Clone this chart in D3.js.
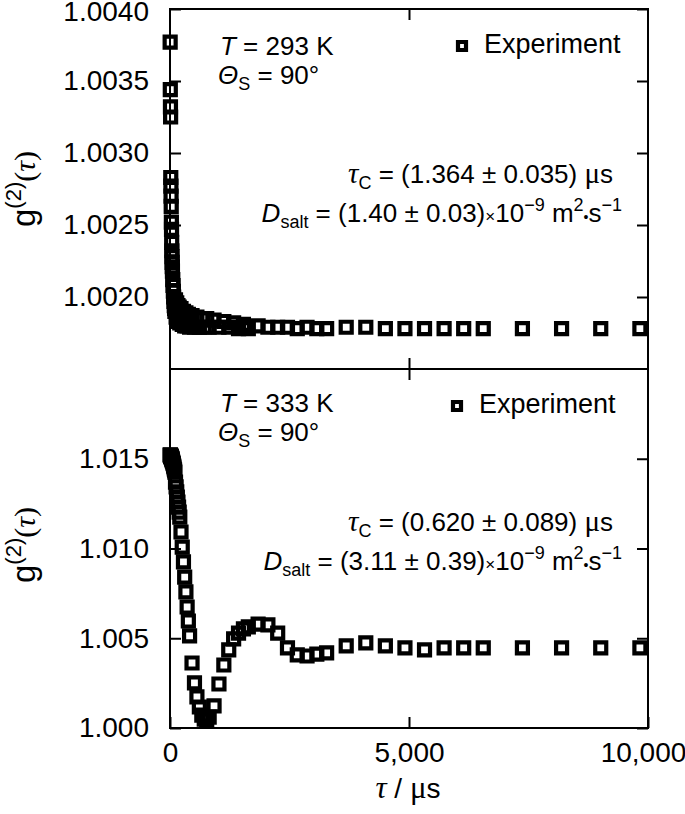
<!DOCTYPE html>
<html>
<head>
<meta charset="utf-8">
<script src="https://d3js.org/d3.v7.min.js"></script>
<style>
  body { margin: 0; background: #fff; }
  svg { display: block; font-family: "Liberation Sans", Arial, sans-serif; }
</style>
</head>
<body>
<svg id="chart" width="685" height="814"></svg>
<script>
// lag times of the correlator (µs), same for both runs
var tauUs = [
  3.2, 6.4, 9.6, 12.8, 16, 19.2, 22.4, 25.6, 28.8, 32, 35.2, 38.4, 41.6, 44.8, 48, 51.2,
  57.6, 64, 70.4, 76.8, 83.2, 89.6, 96, 102.4,
  115.2, 128, 140.8, 153.6, 166.4, 179.2, 192, 204.8,
  230.4, 256, 281.6, 307.2, 332.8, 358.4, 384, 409.6,
  460.8, 512, 563.2, 614.4, 665.6, 716.8, 768, 819.2,
  921.6, 1024, 1126.4, 1228.8, 1331.2, 1433.6, 1536, 1638.4,
  1843.2, 2048, 2252.8, 2457.6, 2662.4, 2867.2, 3072, 3276.8,
  3686.4, 4096, 4505.6, 4915.2, 5324.8, 5734.4, 6144, 6553.6,
  7372.8, 8192, 9011.2, 9830.4
];

// T = 293 K
var g2At293K = [
  1.00377, 1.00344, 1.00332, 1.00325, 1.00283, 1.00277, 1.00270, 1.00263,
  1.00252, 1.00247, 1.00238, 1.00232, 1.00228, 1.00224, 1.00221, 1.00218,
  1.00212, 1.00208, 1.00204, 1.00200, 1.00197, 1.00194, 1.00192, 1.00190,
  1.00198, 1.00186, 1.00196, 1.00184, 1.00194, 1.00183, 1.00193, 1.00182,
  1.00192, 1.00181, 1.00190, 1.00180, 1.00189, 1.00180, 1.00188, 1.00179,
  1.00187, 1.00179, 1.00186, 1.00179, 1.00185, 1.00179, 1.00185, 1.00179,
  1.00184, 1.00179, 1.00183, 1.00179, 1.00182, 1.00178, 1.00181, 1.00178,
  1.00180, 1.00179, 1.00179, 1.00179, 1.00178, 1.00179, 1.00178, 1.00178,
  1.00179, 1.00179, 1.00178, 1.00178, 1.00178, 1.00178, 1.00178, 1.00178,
  1.00178, 1.00178, 1.00178, 1.00178
];

// T = 333 K
var g2At333K = [
  1.01521, 1.01521, 1.01521, 1.01515, 1.01515, 1.01515, 1.01510, 1.01510,
  1.01510, 1.01504, 1.01504, 1.01499, 1.01499, 1.01493, 1.01493, 1.01487,
  1.01482, 1.01476, 1.01471, 1.01460, 1.01454, 1.01443, 1.01437, 1.01426,
  1.01370, 1.01343, 1.01315, 1.01287, 1.01259, 1.01231, 1.01203, 1.01175,
  1.01092, 1.01008, 1.00925, 1.00841, 1.00758, 1.00674, 1.00596, 1.00513,
  1.00362, 1.00251, 1.00173, 1.00117, 1.00072, 1.00050, 1.00045, 1.00061,
  1.00123, 1.00245, 1.00351, 1.00435, 1.00496, 1.00529, 1.00552, 1.00563,
  1.00579, 1.00574, 1.00529, 1.00446, 1.00407, 1.00401, 1.00412, 1.00418,
  1.00457, 1.00474, 1.00457, 1.00446, 1.00435, 1.00446, 1.00446, 1.00446,
  1.00446, 1.00446, 1.00446, 1.00446
];

var xTicks = [0, 5000, 10000];
var yTicksTop = [1.0020, 1.0025, 1.0030, 1.0035, 1.0040];
var yTicksBottom = [1.000, 1.005, 1.010, 1.015];

// frame edges (px)
var plotLeft = 170, plotRight = 648, plotTop = 9, plotMid = 369, plotBottom = 728;
var tickLen = 11;

var svg = d3.select("#chart");

var x = d3.scaleLinear().domain([0, 10000]).range([plotLeft, plotRight]);
var yTop = d3.scaleLinear().domain([1.0015, 1.0040]).range([plotMid, plotTop]);
var yBot = d3.scaleLinear().domain([1.000, 1.020]).range([plotBottom, plotMid]);

var square = d3.symbol().type(d3.symbolSquare).size(121);

function drawPanel(y, g2, yTicks, fmt, y0, y1, showXLabels) {
  var g = svg.append("g");

  // points first, frame over them
  g.append("g").selectAll("path")
    .data(tauUs.map((t, i) => [t, g2[i]]))
    .enter().append("path")
    .attr("d", square)
    .attr("transform", d => `translate(${x(d[0])},${y(d[1])})`)
    .style("fill", "none")
    .style("stroke", "#000")
    .style("stroke-width", 4.2);

  g.append("rect")
    .attr("x", plotLeft).attr("y", y0)
    .attr("width", plotRight - plotLeft).attr("height", y1 - y0)
    .style("fill", "none").style("stroke", "#000").style("stroke-width", 2);

  var yl = g.append("g").attr("transform", `translate(${plotLeft},0)`)
    .call(d3.axisLeft(y).tickValues(yTicks).tickSize(-tickLen).tickPadding(21).tickFormat(fmt));
  var yr = g.append("g").attr("transform", `translate(${plotRight},0)`)
    .call(d3.axisRight(y).tickValues(yTicks).tickSize(-tickLen).tickFormat(""));
  var xt = g.append("g").attr("transform", `translate(0,${y0})`)
    .call(d3.axisTop(x).tickValues([5000]).tickSize(-tickLen).tickFormat(""));
  var xb = g.append("g").attr("transform", `translate(0,${y1})`)
    .call(d3.axisBottom(x).tickValues(showXLabels ? xTicks : [5000]).tickSize(-tickLen)
      .tickPadding(14).tickFormat(showXLabels ? d3.format(",") : ""));

  [yl, yr, xt, xb].forEach(a => {
    a.select(".domain").remove();
    a.selectAll("line").style("stroke", "#000").style("stroke-width", 2);
    a.selectAll("text").style("font-family", "Liberation Sans, Arial, sans-serif")
      .style("font-size", "28px").style("fill", "#000");
  });
  // keep "10,000" inside the window, and the top label off the edge
  xb.selectAll("text").filter(d => d === 10000).attr("dx", -5);
  yl.selectAll("text").filter(d => d === 1.0040).attr("dy", "0.42em");
}

drawPanel(yTop, g2At293K, yTicksTop, d3.format(".4f"), plotTop, plotMid, false);
drawPanel(yBot, g2At333K, yTicksBottom, d3.format(".3f"), plotMid, plotBottom, true);

// text made of pieces: [text, size, opts]; opts.shift moves the baseline
function rich(px, py, anchor, parts, rotate) {
  var t = svg.append("text")
    .attr("text-anchor", anchor)
    .style("fill", "#000");
  if (rotate) t.attr("transform", `translate(${px},${py}) rotate(-90)`);
  else t.attr("x", px).attr("y", py);
  var cur = 0;
  parts.forEach(p => {
    var o = p[2] || {};
    var shift = o.shift || 0;
    var s = t.append("tspan").text(p[0])
      .attr("dy", shift - cur)
      .style("font-size", p[1] + "px");
    cur = shift;
    if (o.italic) s.style("font-style", "italic");
    if (o.serif) s.style("font-family", "Liberation Serif, Times New Roman, serif");
  });
}

// y axis titles
[189, 545].forEach(cy => {
  rich(35, cy, "middle", [
    ["g", 33],
    ["(2)", 22, {shift: -14}],
    ["(", 30, {serif: true}],
    ["\u03c4", 30, {serif: true, italic: true}],
    [")", 30, {serif: true}]
  ], true);
});

// x axis title
rich(408, 798, "middle", [
  ["\u03c4", 31, {serif: true, italic: true}],
  [" / ", 28],
  ["\u03bc", 31, {serif: true}],
  ["s", 28]
]);

// legend
function legend(sx, sy) {
  svg.append("path")
    .attr("d", d3.symbol().type(d3.symbolSquare).size(64))
    .attr("transform", `translate(${sx},${sy})`)
    .style("fill", "none").style("stroke", "#000").style("stroke-width", 4.2);
  svg.append("text").attr("x", sx + 22).attr("y", sy + 7)
    .style("font-size", "27px").text("Experiment");
}
legend(462, 46);
legend(457, 406);

function conditions(tx, ty, temp) {
  rich(tx, ty, "start", [["T", 26, {italic: true}], [" = " + temp + " K", 26]]);
  rich(tx - 2, ty + 29, "start", [
    ["\u0398", 26, {italic: true}], ["S", 18, {shift: 6}], [" = 90\u00b0", 26]
  ]);
}
conditions(220, 55, "293");
conditions(220, 412, "333");

function fitText(ty, tauC, dSalt) {
  rich(613, ty, "end", [
    ["\u03c4", 29, {serif: true, italic: true}], ["C", 18, {shift: 6}],
    [" = (" + tauC + ") ", 26], ["\u03bc", 29, {serif: true}], ["s", 26]
  ]);
  rich(622, ty + 39, "end", [
    ["D", 26, {italic: true}], ["salt", 18, {shift: 6}],
    [" = (" + dSalt + ")", 26], ["\u00d7", 17], ["10", 26],
    ["\u22129", 18, {shift: -11}], [" m", 26], ["2", 18, {shift: -11}],
    ["\u2022", 14], ["s", 26], ["\u22121", 18, {shift: -11}]
  ]);
}
fitText(183, "1.364 \u00b1 0.035", "1.40 \u00b1 0.03");
fitText(531, "0.620 \u00b1 0.089", "3.11 \u00b1 0.39");
</script>
</body>
</html>
